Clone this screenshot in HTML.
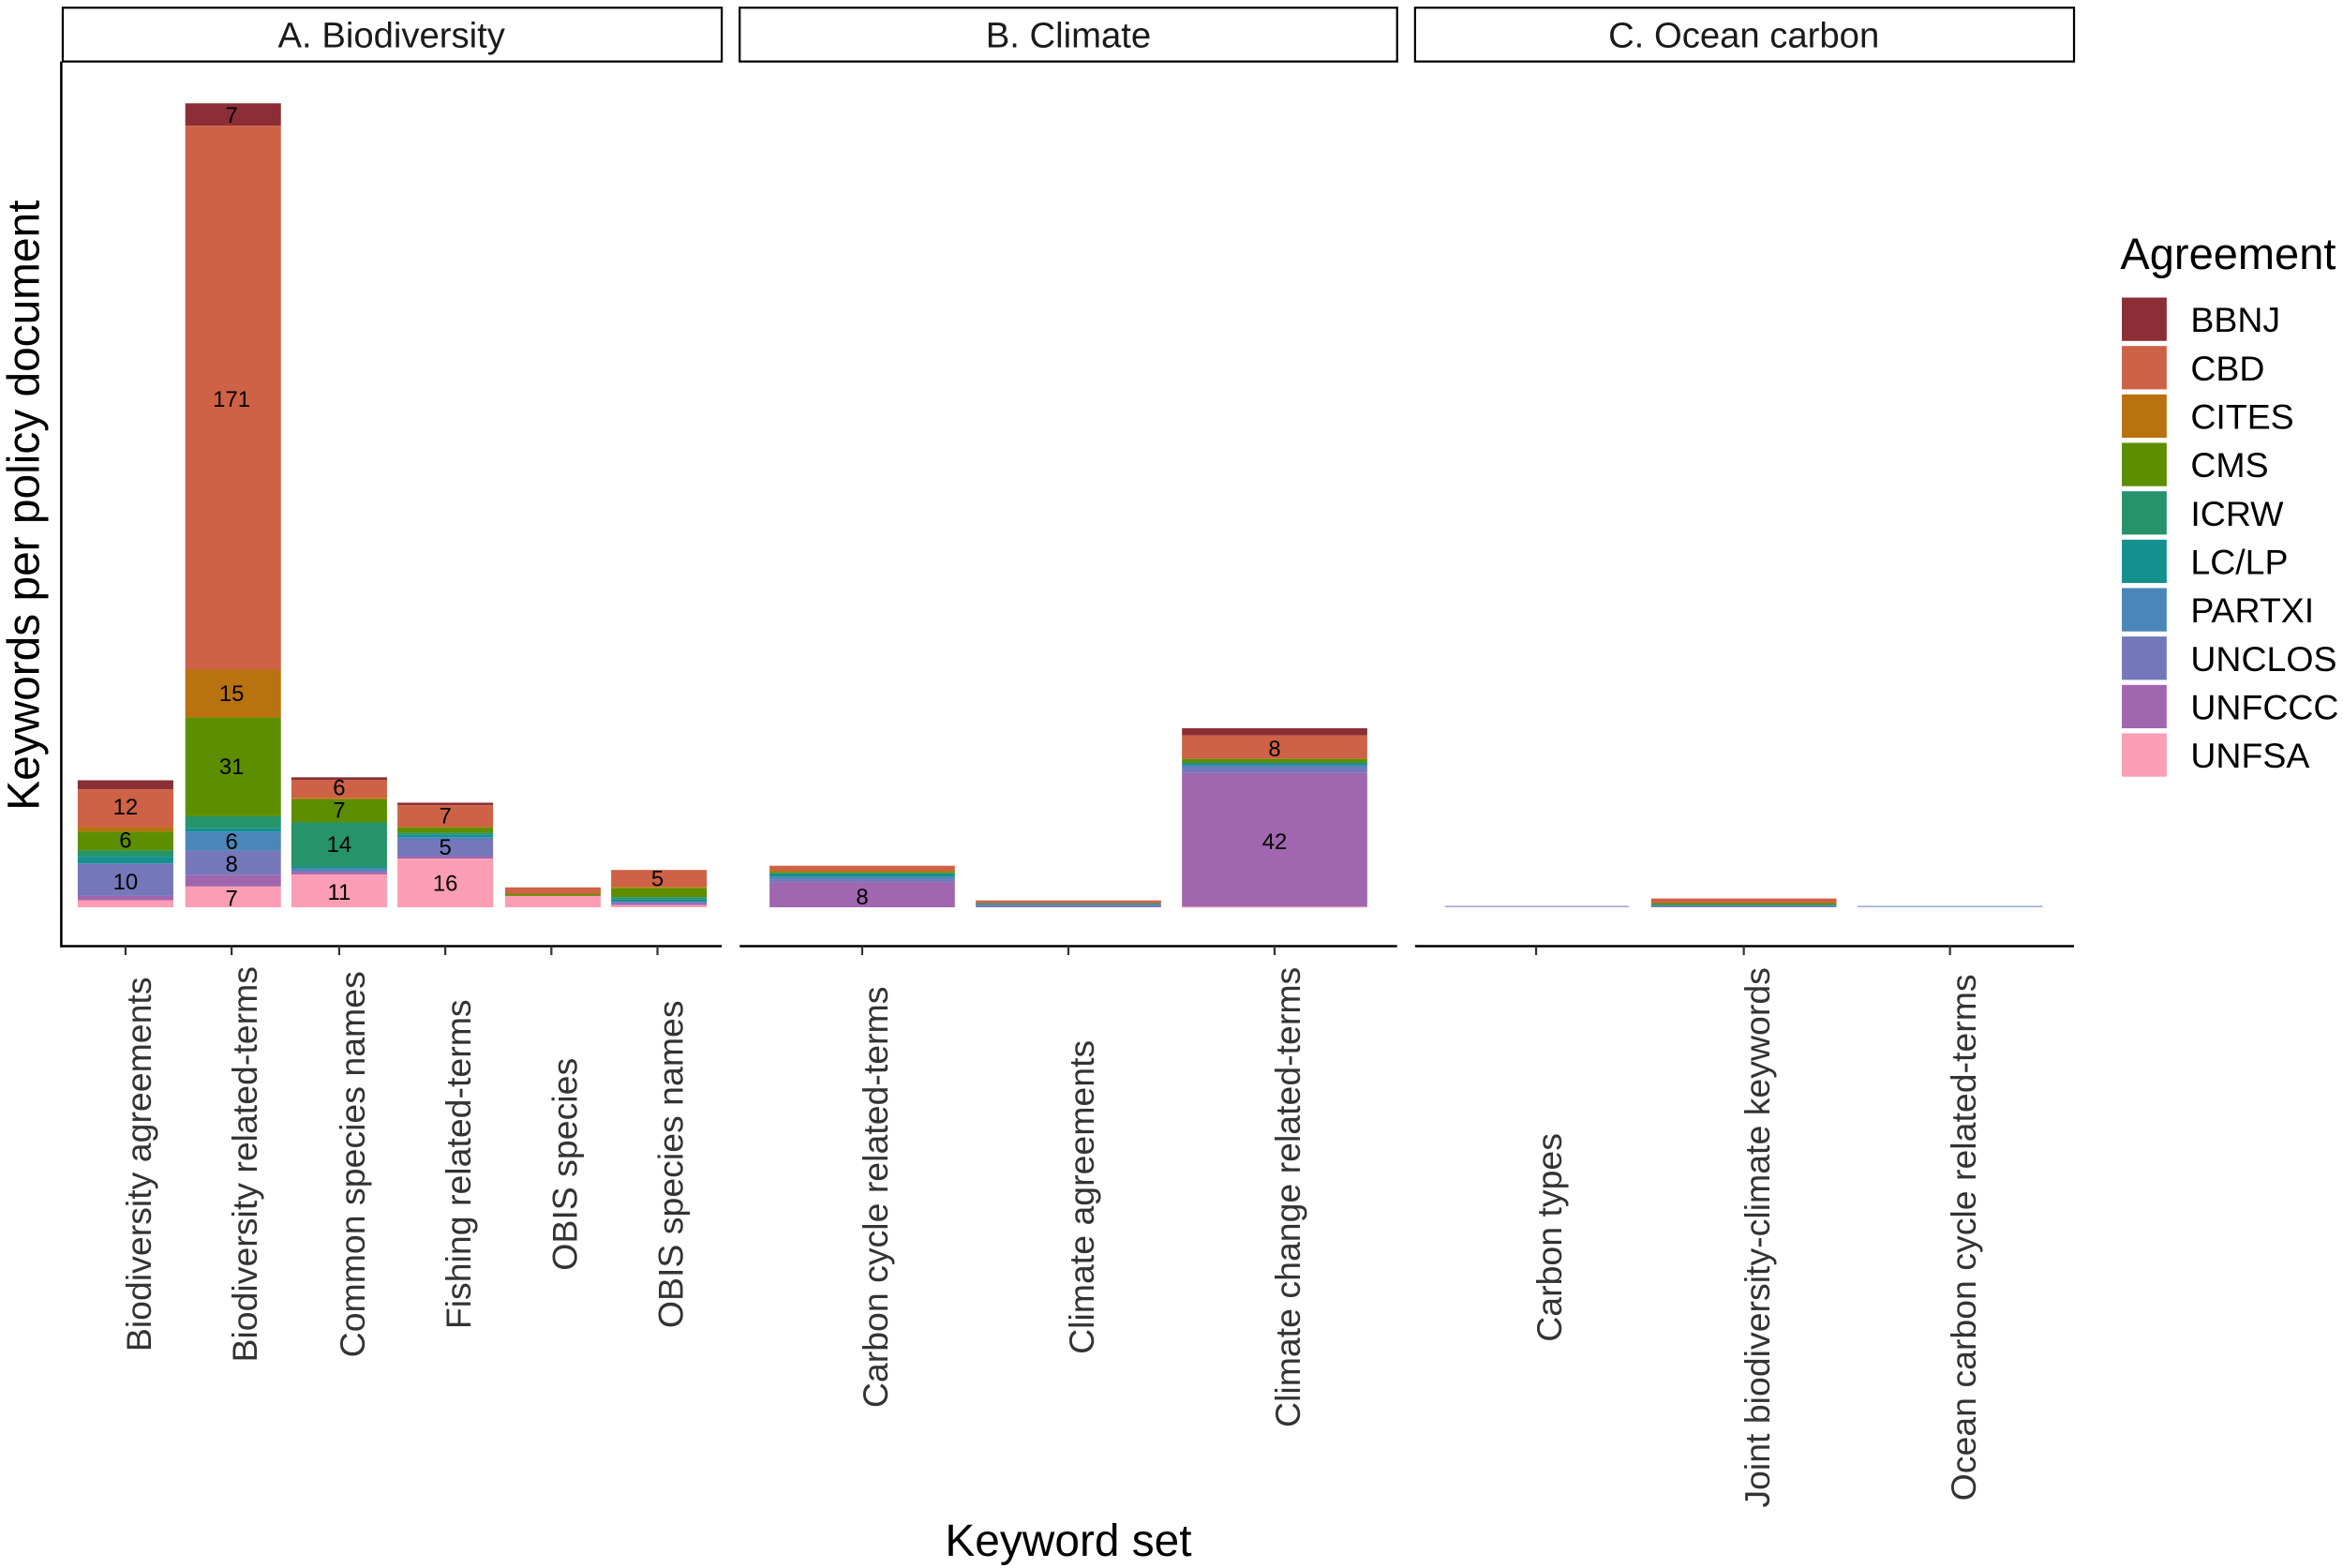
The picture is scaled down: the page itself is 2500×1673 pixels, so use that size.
<!DOCTYPE html>
<html><head><meta charset="utf-8"><style>html,body{margin:0;padding:0;background:#fff}svg{display:block}</style></head>
<body>
<svg width="2500" height="1673" viewBox="0 0 1568 1049" xmlns="http://www.w3.org/2000/svg" font-family="Liberation Sans, Arial, sans-serif">
<rect width="1568" height="1049" fill="#fff"/>
<g fill="#fff" stroke="#000" stroke-width="1.4">
<rect x="42" y="5" width="441" height="36"/>
<rect x="495" y="5" width="440" height="36"/>
<rect x="947" y="5" width="441" height="36"/>
</g>
<g font-size="24" fill="#1a1a1a" text-anchor="middle">
<text x="262" y="31.5">A. Biodiversity</text>
<text x="715" y="31.5">B. Climate</text>
<text x="1167" y="31.5">C. Ocean carbon</text>
</g>
<g>
<rect x="52" y="522" width="64" height="6" fill="#8B2E36"/>
<rect x="52" y="528" width="64" height="25.3" fill="#CD6246"/>
<rect x="52" y="553.3" width="64" height="3.1" fill="#B8720F"/>
<rect x="52" y="556.4" width="64" height="12.7" fill="#5C8E00"/>
<rect x="52" y="569.1" width="64" height="4.1" fill="#26936A"/>
<rect x="52" y="573.2" width="64" height="4.5" fill="#14918F"/>
<rect x="52" y="577.7" width="64" height="21.7" fill="#7478BA"/>
<rect x="52" y="599.4" width="64" height="2.9" fill="#A066AF"/>
<rect x="52" y="602.3" width="64" height="4.7" fill="#FB9DB4"/>
<rect x="124" y="69" width="64" height="15" fill="#8B2E36"/>
<rect x="124" y="84" width="64" height="364" fill="#CD6246"/>
<rect x="124" y="448" width="64" height="32" fill="#B8720F"/>
<rect x="124" y="480" width="64" height="66.1" fill="#5C8E00"/>
<rect x="124" y="546.1" width="64" height="8" fill="#26936A"/>
<rect x="124" y="554.1" width="64" height="2.3" fill="#14918F"/>
<rect x="124" y="556.4" width="64" height="12.7" fill="#4A86B8"/>
<rect x="124" y="569.1" width="64" height="16.4" fill="#7478BA"/>
<rect x="124" y="585.5" width="64" height="7.6" fill="#A066AF"/>
<rect x="124" y="593.1" width="64" height="13.9" fill="#FB9DB4"/>
<rect x="195" y="520" width="64" height="1.9" fill="#8B2E36"/>
<rect x="195" y="521.9" width="64" height="11.9" fill="#CD6246"/>
<rect x="195" y="533.8" width="64" height="1" fill="#B8720F"/>
<rect x="195" y="534.8" width="64" height="15.4" fill="#5C8E00"/>
<rect x="195" y="550.2" width="64" height="29.5" fill="#26936A"/>
<rect x="195" y="579.7" width="64" height="1.3" fill="#14918F"/>
<rect x="195" y="581" width="64" height="1.2" fill="#4A86B8"/>
<rect x="195" y="582.2" width="64" height="1.2" fill="#7478BA"/>
<rect x="195" y="583.4" width="64" height="1.6" fill="#A066AF"/>
<rect x="195" y="585" width="64" height="22" fill="#FB9DB4"/>
<rect x="266" y="537" width="64" height="1.7" fill="#8B2E36"/>
<rect x="266" y="538.7" width="64" height="14.4" fill="#CD6246"/>
<rect x="266" y="553.1" width="64" height="0.6" fill="#B8720F"/>
<rect x="266" y="553.7" width="64" height="3.5" fill="#5C8E00"/>
<rect x="266" y="557.2" width="64" height="1" fill="#26936A"/>
<rect x="266" y="558.2" width="64" height="1.8" fill="#14918F"/>
<rect x="266" y="560" width="64" height="1.5" fill="#4A86B8"/>
<rect x="266" y="561.5" width="64" height="11.3" fill="#7478BA"/>
<rect x="266" y="572.8" width="64" height="1.6" fill="#A066AF"/>
<rect x="266" y="574.4" width="64" height="32.6" fill="#FB9DB4"/>
<rect x="338" y="593.7" width="64" height="4.5" fill="#CD6246"/>
<rect x="338" y="598.2" width="64" height="1.2" fill="#5C8E00"/>
<rect x="338" y="599.4" width="64" height="7.6" fill="#FB9DB4"/>
<rect x="409" y="582" width="64" height="11.3" fill="#CD6246"/>
<rect x="409" y="593.3" width="64" height="1" fill="#B8720F"/>
<rect x="409" y="594.3" width="64" height="5.9" fill="#5C8E00"/>
<rect x="409" y="600.2" width="64" height="1.3" fill="#26936A"/>
<rect x="409" y="601.5" width="64" height="1.8" fill="#14918F"/>
<rect x="409" y="603.3" width="64" height="1.2" fill="#7478BA"/>
<rect x="409" y="604.5" width="64" height="1.1" fill="#A066AF"/>
<rect x="409" y="605.6" width="64" height="1.4" fill="#FB9DB4"/>
</g>
<g>
<rect x="515" y="579.2" width="124" height="3.3" fill="#CD6246"/>
<rect x="515" y="582.5" width="124" height="1" fill="#B8720F"/>
<rect x="515" y="583.5" width="124" height="0.8" fill="#5C8E00"/>
<rect x="515" y="584.3" width="124" height="2.4" fill="#14918F"/>
<rect x="515" y="586.7" width="124" height="1.5" fill="#4A86B8"/>
<rect x="515" y="588.2" width="124" height="2.1" fill="#7478BA"/>
<rect x="515" y="590.3" width="124" height="16.7" fill="#A066AF"/>
<rect x="653" y="602.4" width="124" height="1.9" fill="#CD6246"/>
<rect x="653" y="604.3" width="124" height="1" fill="#26936A"/>
<rect x="653" y="605.3" width="124" height="1.7" fill="#7478BA"/>
<rect x="791" y="487.2" width="124" height="4.8" fill="#8B2E36"/>
<rect x="791" y="492" width="124" height="15.7" fill="#CD6246"/>
<rect x="791" y="507.7" width="124" height="2.7" fill="#5C8E00"/>
<rect x="791" y="510.4" width="124" height="1.5" fill="#14918F"/>
<rect x="791" y="511.9" width="124" height="1.3" fill="#4A86B8"/>
<rect x="791" y="513.2" width="124" height="3.9" fill="#7478BA"/>
<rect x="791" y="517.1" width="124" height="89.5" fill="#A066AF"/>
<rect x="791" y="606.6" width="124" height="0.6" fill="#FB9DB4"/>
</g>
<g>
<rect x="967" y="606" width="123" height="1" fill="#A8A4C8"/>
<rect x="1105" y="601.1" width="124" height="3.1" fill="#CD6246"/>
<rect x="1105" y="604.2" width="124" height="1" fill="#5C8E00"/>
<rect x="1105" y="605.2" width="124" height="0.9" fill="#26936A"/>
<rect x="1105" y="606.1" width="124" height="0.9" fill="#7478BA"/>
<rect x="1243" y="606" width="124" height="1" fill="#9AB0CC"/>
</g>
<g font-size="15" fill="#000" text-anchor="middle">
<text x="155" y="82">7</text>
<text x="155" y="272">171</text>
<text x="155" y="469">15</text>
<text x="155" y="518">31</text>
<text x="155" y="568">6</text>
<text x="155" y="583">8</text>
<text x="155" y="606">7</text>
<text x="84" y="545">12</text>
<text x="84" y="567">6</text>
<text x="84" y="595">10</text>
<text x="227" y="532">6</text>
<text x="227" y="547">7</text>
<text x="227" y="570">14</text>
<text x="227" y="602">11</text>
<text x="298" y="551">7</text>
<text x="298" y="572">5</text>
<text x="298" y="596">16</text>
<text x="440" y="593">5</text>
<text x="577" y="605">8</text>
<text x="853" y="506">8</text>
<text x="853" y="568">42</text>
</g>
<g stroke="#000" stroke-width="1.6" fill="none">
<line x1="41" y1="41" x2="41" y2="633.8"/>
<line x1="41" y1="633" x2="483" y2="633"/>
<line x1="495" y1="633" x2="935" y2="633"/>
<line x1="947" y1="633" x2="1388" y2="633"/>
</g>
<g stroke="#333" stroke-width="1.4">
<line x1="84" y1="633" x2="84" y2="639"/><line x1="155" y1="633" x2="155" y2="639"/><line x1="227" y1="633" x2="227" y2="639"/><line x1="298" y1="633" x2="298" y2="639"/><line x1="369" y1="633" x2="369" y2="639"/><line x1="440" y1="633" x2="440" y2="639"/>
<line x1="577" y1="633" x2="577" y2="639"/><line x1="715" y1="633" x2="715" y2="639"/><line x1="853" y1="633" x2="853" y2="639"/>
<line x1="1028" y1="633" x2="1028" y2="639"/><line x1="1167" y1="633" x2="1167" y2="639"/><line x1="1305" y1="633" x2="1305" y2="639"/>
</g>
<g font-size="23.5" fill="#333" text-anchor="middle">
<text transform="translate(101,779) rotate(-90)">Biodiversity agreements</text>
<text transform="translate(172,779) rotate(-90)">Biodiversity related-terms</text>
<text transform="translate(244,779) rotate(-90)">Common species names</text>
<text transform="translate(315,779) rotate(-90)">Fishing related-terms</text>
<text transform="translate(386,779) rotate(-90)">OBIS species</text>
<text transform="translate(457,779) rotate(-90)">OBIS species names</text>
<text transform="translate(594,801) rotate(-90)">Carbon cycle related-terms</text>
<text transform="translate(732,801) rotate(-90)">Climate agreements</text>
<text transform="translate(870,801) rotate(-90)">Climate change related-terms</text>
<text transform="translate(1045,828) rotate(-90)">Carbon types</text>
<text transform="translate(1184,828) rotate(-90)">Joint biodiversity-climate keywords</text>
<text transform="translate(1322,828) rotate(-90)">Ocean carbon cycle related-terms</text>
</g>
<g font-size="30" fill="#000" text-anchor="middle">
<text x="715" y="1041">Keyword set</text>
<text transform="translate(26,338) rotate(-90)">Keywords per policy document</text>
</g>
<text x="1419" y="180" font-size="29.5" fill="#000">Agreement</text>
<g>
<rect x="1420" y="199" width="30" height="29" fill="#8B2E36"/>
<rect x="1420" y="231.4" width="30" height="29" fill="#CD6246"/>
<rect x="1420" y="263.8" width="30" height="29" fill="#B8720F"/>
<rect x="1420" y="296.2" width="30" height="29" fill="#5C8E00"/>
<rect x="1420" y="328.6" width="30" height="29" fill="#26936A"/>
<rect x="1420" y="361" width="30" height="29" fill="#14918F"/>
<rect x="1420" y="393.4" width="30" height="29" fill="#4A86B8"/>
<rect x="1420" y="425.8" width="30" height="29" fill="#7478BA"/>
<rect x="1420" y="458.2" width="30" height="29" fill="#A066AF"/>
<rect x="1420" y="490.6" width="30" height="29" fill="#FB9DB4"/>
</g>
<g font-size="23.5" fill="#000">
<text x="1466" y="222">BBNJ</text>
<text x="1466" y="254.4">CBD</text>
<text x="1466" y="286.8">CITES</text>
<text x="1466" y="319.2">CMS</text>
<text x="1466" y="351.6">ICRW</text>
<text x="1466" y="384">LC/LP</text>
<text x="1466" y="416.4">PARTXI</text>
<text x="1466" y="448.8">UNCLOS</text>
<text x="1466" y="481.2">UNFCCC</text>
<text x="1466" y="513.6">UNFSA</text>
</g>
</svg>
</body></html>
